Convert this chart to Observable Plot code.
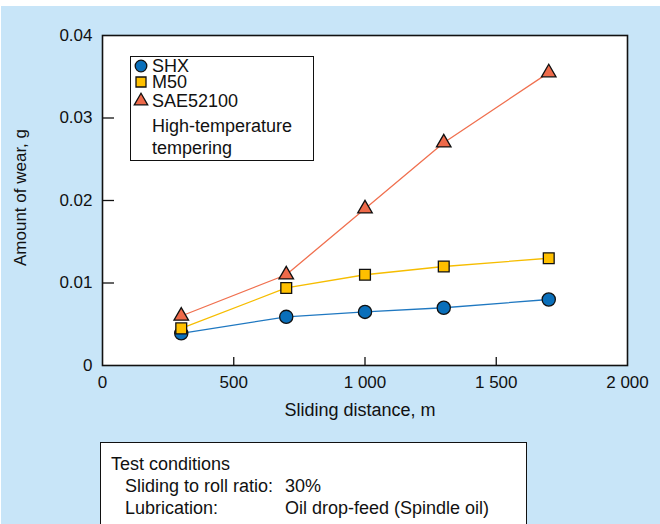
<!DOCTYPE html>
<html>
<head>
<meta charset="utf-8">
<script src="https://cdn.jsdelivr.net/npm/d3@7"></script>
<script src="https://cdn.jsdelivr.net/npm/@observablehq/plot@0.6"></script>
<style>
  html, body { margin: 0; padding: 0; background: #fff; }
  #page { position: relative; width: 660px; height: 524px; overflow: hidden; background: #fff;
          font-family: "Liberation Sans", Arial, Helvetica, sans-serif; color: #111; }
  #panel { position: absolute; left: 1px; top: 6px; right: 0; bottom: 0; background: #c8e5f8; }
  #chart { position: absolute; left: 0; top: 0; }
  #legend { position: absolute; left: 130px; top: 56px; width: 182px; height: 103px;
            border: 1.5px solid #111; background: #fff; font-size: 18px; }
  #legend svg { display: block; }
  #legend .txt { position: absolute; left: 21px; white-space: nowrap; line-height: 15px; }
  #conditions { position: absolute; left: 100px; top: 442px; width: 425px; height: 100px;
                border: 1.5px solid #111; background: #fff; font-size: 18px; }
  #conditions .line { position: absolute; white-space: nowrap; line-height: 1; }
</style>
</head>
<body>
<div id="page">
  <div id="panel"></div>
  <div id="chart"></div>
  <div id="legend"></div>
  <div id="conditions"></div>
</div>
<script>
// Sliding distance (m) at which wear was measured
const distances = [300, 700, 1000, 1300, 1700];
// Amount of wear (g) for each bearing steel
const shx = [0.0039, 0.0059, 0.0065, 0.0070, 0.0080];
const m50 = [0.0045, 0.0094, 0.0110, 0.0120, 0.0130];
const sae52100 = [0.0060, 0.0110, 0.0190, 0.0270, 0.0355];

const seriesNames = ["SHX", "M50", "SAE52100"];
const legendNote = ["High-temperature", "tempering"];
const xTicks = [0, 500, 1000, 1500, 2000];
const yTicks = [0, 0.01, 0.02, 0.03, 0.04];
const xLabel = "Sliding distance, m";
const yLabel = "Amount of wear, g";
const conditionLines = [
  ["Test conditions", ""],
  ["Sliding to roll ratio:", "30%"],
  ["Lubrication:", "Oil drop-feed (Spindle oil)"]
];

const styles = {
  SHX: {line: "#1f78c1", fill: "#0a6fba", symbol: "circle", r: 6.6},
  M50: {line: "#f6bd00", fill: "#ffc000", symbol: "square", r: 6.1},
  SAE52100: {line: "#f0704f", fill: "#ee6a4a", symbol: "triangle", r: 5.4}
};

const rows = (values, name) => distances.map((d, i) => ({distance: d, wear: values[i], steel: name}));
const data = {
  SHX: rows(shx, "SHX"),
  M50: rows(m50, "M50"),
  SAE52100: rows(sae52100, "SAE52100")
};

const W = 660, H = 430;
const mL = 102, mR = 33, mT = 35, mB = 65;
const plotW = W - mL - mR, plotH = H - mT - mB;

const fmtX = d => d >= 1000 ? d3.format(",")(d).replace(",", " ") : String(d);
const fmtY = d => d === 0 ? "0" : d.toFixed(2);

const marks = [Plot.frame({fill: "white", stroke: "none"})];
for (const name of seriesNames) {
  marks.push(Plot.line(data[name], {x: "distance", y: "wear", stroke: styles[name].line, strokeWidth: 1.3}));
}
for (const name of seriesNames) {
  const s = styles[name];
  marks.push(Plot.dot(data[name], {x: "distance", y: "wear", symbol: () => s.symbol, r: s.r,
    fill: s.fill, stroke: "#111", strokeWidth: 1.3}));
}
// inward tick marks on the bottom and left edges
marks.push(Plot.tickX(xTicks.slice(1, -1), {x: d => d, stroke: "#111", strokeWidth: 1.3, insetTop: plotH - 8}));
marks.push(Plot.tickY(yTicks.slice(1, -1), {y: d => d, stroke: "#111", strokeWidth: 1.3, insetRight: plotW - 12}));
marks.push(Plot.frame({stroke: "#111", strokeWidth: 1.6}));
// axis titles
marks.push(Plot.text([xLabel], {text: d => d, frameAnchor: "bottom", textAnchor: "middle", lineAnchor: "middle",
  dy: 45, dx: -5, fontSize: 18, fill: "#111"}));
marks.push(Plot.text([yLabel], {text: d => d, frameAnchor: "left", textAnchor: "middle", lineAnchor: "middle",
  rotate: -90, dx: -82, dy: -3, fontSize: 17, fill: "#111"}));

const chart = Plot.plot({
  width: W, height: H,
  marginLeft: mL, marginRight: mR, marginTop: mT, marginBottom: mB,
  style: {background: "transparent", fontSize: "17px", fontFamily: "'Liberation Sans', Arial, sans-serif", color: "#111"},
  x: {domain: [0, 2000], ticks: xTicks, tickFormat: fmtX, tickSize: 0, tickPadding: 10, label: null},
  y: {domain: [0, 0.04], ticks: yTicks, tickFormat: fmtY, tickSize: 0, tickPadding: 10, label: null},
  symbol: {type: "identity"},
  marks
});
document.getElementById("chart").appendChild(chart);

// legend inside the plot frame
const legend = d3.select("#legend");
const legendY = [9, 25, 44];
seriesNames.forEach((name, i) => {
  const s = styles[name];
  const g = legend.append("svg").attr("width", 20).attr("height", 20)
    .style("position", "absolute").style("left", "0px").style("top", (legendY[i] - 10) + "px")
    .append("g").attr("transform", "translate(10,10)");
  const sym = {circle: d3.symbolCircle, square: d3.symbolSquare, triangle: d3.symbolTriangle}[s.symbol];
  const size = {circle: Math.PI * 5.8 * 5.8, square: 100, triangle: 78}[s.symbol];
  g.append("path").attr("d", d3.symbol(sym, size)()).attr("fill", s.fill).attr("stroke", "#111").attr("stroke-width", 1.3);
  legend.append("div").attr("class", "txt").style("top", (legendY[i] - 7) + "px").text(name);
});
legendNote.forEach((t, i) => {
  legend.append("div").attr("class", "txt").style("top", (61.5 + i * 22) + "px").text(t);
});

// test-conditions box below the chart
const cond = d3.select("#conditions");
conditionLines.forEach(([a, b], i) => {
  cond.append("div").attr("class", "line").style("left", i === 0 ? "10px" : "24px")
    .style("top", (12 + i * 22) + "px").text(a);
  if (b) cond.append("div").attr("class", "line").style("left", "184px")
    .style("top", (12 + i * 22) + "px").text(b);
});
</script>
</body>
</html>
